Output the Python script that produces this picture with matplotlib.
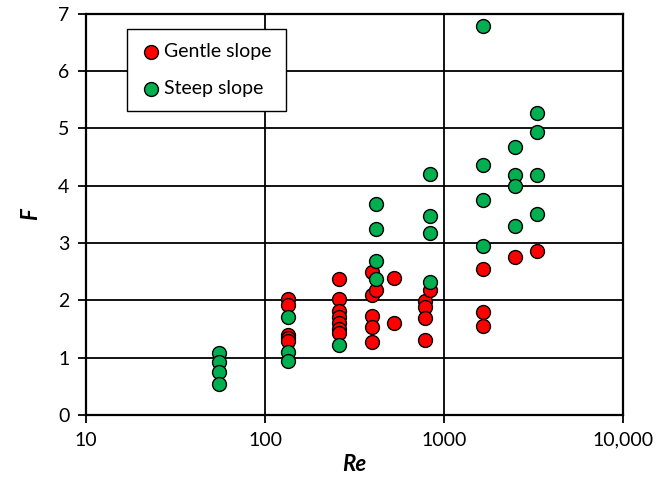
import numpy as np
import matplotlib
matplotlib.use('Agg')
import matplotlib.pyplot as plt

plt.rcParams['font.family'] = ['Lato', 'DejaVu Sans']

# ── Data ─────────────────────────────────────────────────────────────────────
gentle_re = [134, 134, 134, 134, 134,
             260, 260, 260, 260, 260, 260, 260,
             394, 394, 394, 394, 394, 417,
             527, 527,
             787, 787, 787, 787, 835,
             1650, 1650, 1650, 2500, 3300]
gentle_f = [2.03, 1.92, 1.40, 1.35, 1.30,
            2.38, 2.02, 1.82, 1.72, 1.61, 1.51, 1.43,
            2.50, 2.09, 1.73, 1.54, 1.27, 2.18,
            2.39, 1.61,
            1.99, 1.89, 1.70, 1.31, 2.19,
            2.55, 1.79, 1.55, 2.75, 2.87]

steep_re = [55, 55, 55, 55,
            134, 134, 134,
            260,
            417, 417, 417, 417,
            835, 835, 835, 835,
            1650, 1650, 1650, 1650,
            2500, 2500, 2500, 2500,
            3300, 3300, 3300, 3300]
steep_f = [1.09, 0.92, 0.75, 0.54,
           1.72, 1.10, 0.94,
           1.23,
           3.68, 3.24, 2.68, 2.38,
           4.20, 3.48, 3.18, 2.33,
           6.78, 4.36, 3.75, 2.95,
           4.68, 4.19, 4.00, 3.30,
           5.27, 4.94, 4.19, 3.51]

x_ticks = [10, 100, 1000, 10000]
x_labels = ['10', '100', '1000', '10,000']
y_ticks = [0, 1, 2, 3, 4, 5, 6, 7]

# ── Draw ──────────────────────────────────────────────────────────────────────
fig = plt.figure(figsize=(6.62, 4.93), dpi=100)
ax = fig.add_axes([0.130, 0.158, 0.811, 0.814])

ax.set_xscale('log')
ax.set_xlim(10, 10000)
ax.set_ylim(0, 7)

ax.grid(True, which='major', color='black', linewidth=1.3)
ax.set_axisbelow(True)

ax.scatter(gentle_re, gentle_f, s=100, c='#FF0000', edgecolors='black',
           linewidths=1.0, zorder=3, label='Gentle slope')
ax.scatter(steep_re, steep_f, s=100, c='#00B050', edgecolors='black',
           linewidths=1.0, zorder=3, label='Steep slope')

ax.set_xticks(x_ticks)
ax.set_xticklabels(x_labels)
ax.xaxis.set_minor_locator(matplotlib.ticker.NullLocator())
ax.set_yticks(y_ticks)
ax.tick_params(axis='both', direction='out', length=6, width=1.3,
               labelsize=14, colors='black', pad=6)

for s in ax.spines.values():
    s.set_linewidth(1.6)
    s.set_color('black')

ax.set_xlabel('Re', fontsize=16, fontweight='bold', style='italic', labelpad=4)
ax.set_ylabel('F', fontsize=16, fontweight='bold', style='italic', labelpad=12)

leg = ax.legend(loc='upper left', bbox_to_anchor=(0.076, 0.963), fontsize=14,
                borderaxespad=0, frameon=True, fancybox=False,
                edgecolor='black', handletextpad=0.15, borderpad=0.75,
                labelspacing=1.0, handlelength=1.0, markerscale=1.0)
leg.get_frame().set_linewidth(1.0)
leg.get_frame().set_alpha(1)

fig.savefig('out.png', dpi=100)
plt.close(fig)
